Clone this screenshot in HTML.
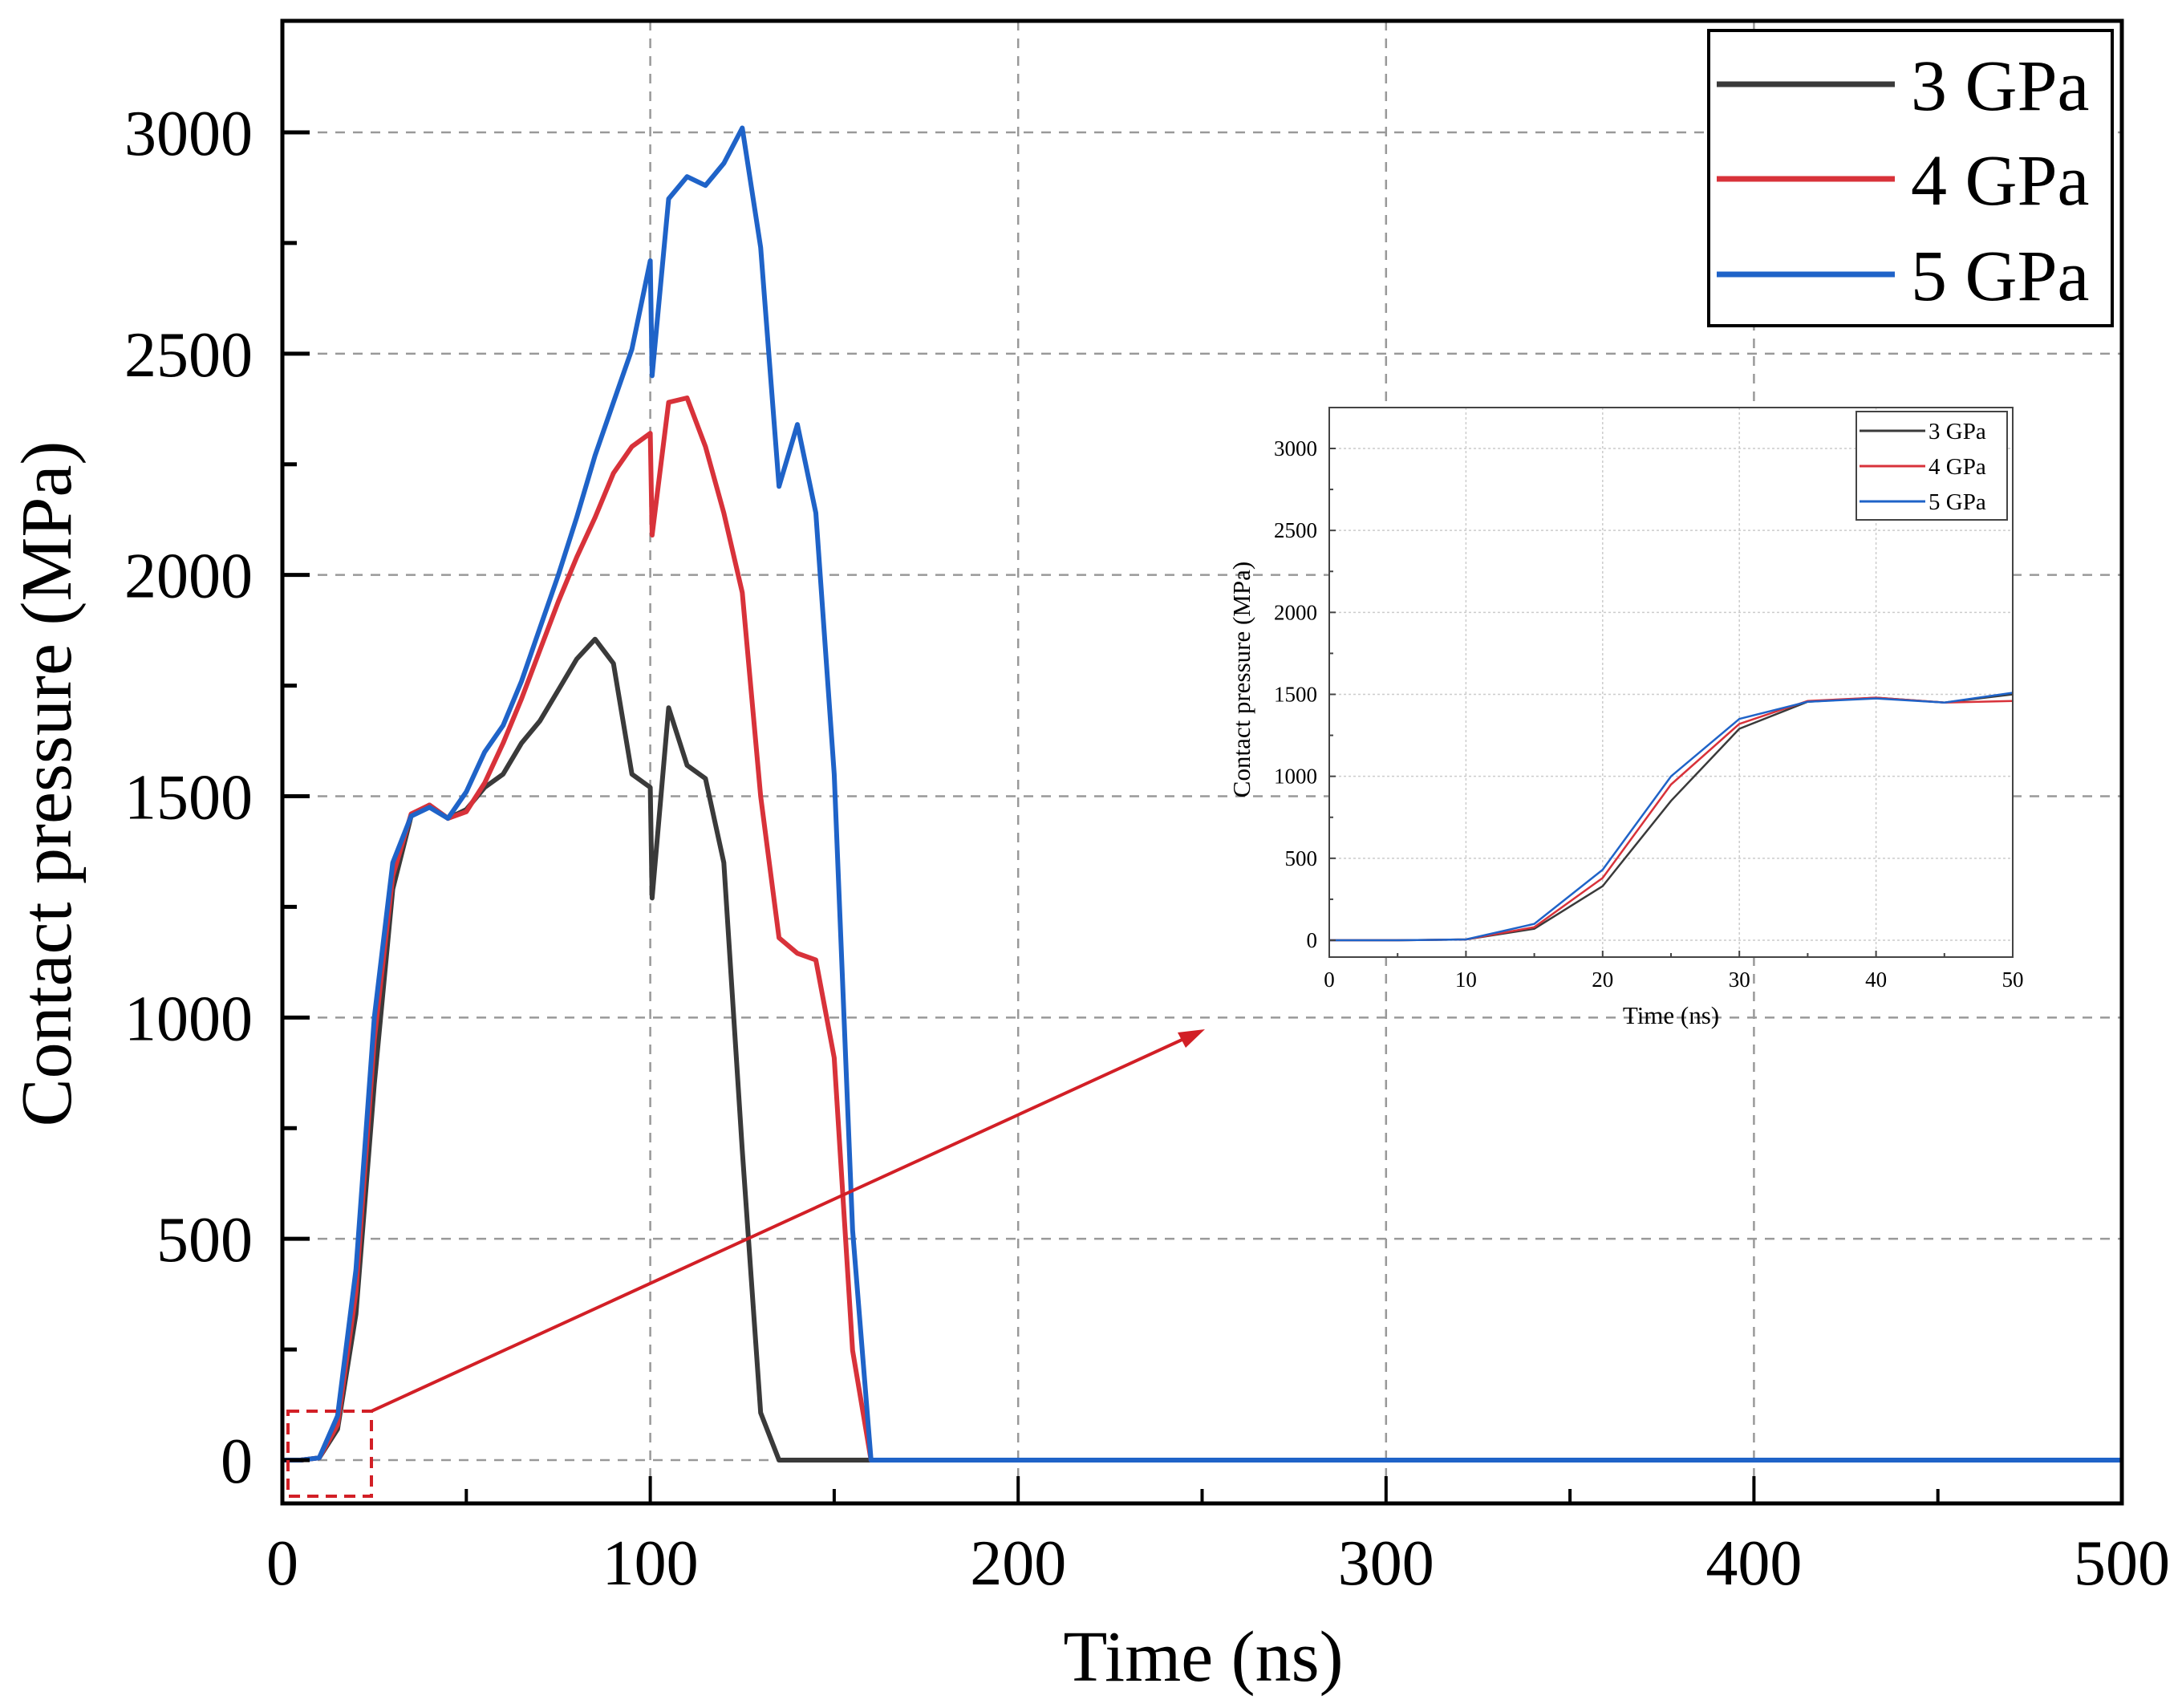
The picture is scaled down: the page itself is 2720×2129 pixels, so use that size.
<!DOCTYPE html>
<html><head><meta charset="utf-8"><style>
html,body{margin:0;padding:0;background:#fff}
svg{display:block;font-family:"Liberation Serif",serif}
</style></head><body>
<svg id="chart" width="2720" height="2129" viewBox="0 0 2720 2129" xmlns="http://www.w3.org/2000/svg">
<g id="grid"></g>
<g id="series"></g>
<g id="axes"></g>
<g id="inset"></g>
<g id="legend"></g>
</svg>
<script>
const times = [0,5,10,15,20,25,30,35,40,45,50,55,60,65,70,75,80,85,90,95,100,100.5,105,110,115,120,125,130,135,140,145,150,155,160,500];
const p3 = [0,0,5,70,330,850,1290,1455,1480,1450,1470,1520,1550,1620,1670,1740,1810,1855,1800,1550,1520,1270,1700,1570,1540,1350,700,107,0,0,0,0,0,0,0];
const p4 = [0,0,5,80,380,950,1320,1460,1480,1450,1465,1530,1620,1720,1830,1940,2040,2130,2230,2290,2320,2090,2390,2400,2290,2140,1960,1500,1180,1145,1130,909,248,0,0];
const p5 = [0,0,5,100,430,1000,1350,1455,1475,1450,1510,1600,1660,1760,1880,2000,2130,2270,2390,2510,2710,2450,2850,2900,2880,2930,3010,2740,2200,2340,2140,1550,520,0,0];
const seriesNames = ["3 GPa","4 GPa","5 GPa"];
const seriesColors = ["#3a3a3a","#d8323a","#1f63c8"];
const xTicks = [0,100,200,300,400,500];
const yTicks = [0,500,1000,1500,2000,2500,3000];
const insetTimes = [0,5,10,15,20,25,30,35,40,45,50];
const i3 = [0,0,5,70,330,850,1290,1455,1480,1450,1500];
const i4 = [0,0,5,80,380,950,1320,1460,1480,1450,1460];
const i5 = [0,0,5,100,430,1000,1350,1455,1475,1450,1510];
const insetXTicks = [0,10,20,30,40,50];

const NS="http://www.w3.org/2000/svg";
function mk(tag,attrs,parent){const e=document.createElementNS(NS,tag);for(const k in attrs)e.setAttribute(k,attrs[k]);parent.appendChild(e);return e;}
const L=352,R=2645,T=26,B=1874;
const X=t=>L+(t/500)*(R-L);
const Y=v=>1820-(v/3000)*(1820-165);
const grid=document.getElementById('grid'),ser=document.getElementById('series'),ax=document.getElementById('axes');
xTicks.slice(1,-1).forEach(t=>{const l=mk('line',{x1:X(t),x2:X(t),y1:T,y2:B,stroke:'#999','stroke-width':2.5,'stroke-dasharray':'12 10'},grid);

});
yTicks.forEach(v=>{const l=mk('line',{x1:L,x2:R,y1:Y(v),y2:Y(v),stroke:'#999','stroke-width':2.5,'stroke-dasharray':'12 10'},grid);

});
[p3,p4,p5].forEach((arr,i)=>{const d=arr.map((v,j)=>(j?'L':'M')+X(times[j]).toFixed(1)+','+Y(v).toFixed(1)).join('');
const p=mk('path',{d:d,fill:'none',stroke:seriesColors[i],'stroke-width':6,'stroke-linejoin':'round'},ser);

});
const fr=mk('rect',{x:L,y:T,width:R-L,height:B-T,fill:'none',stroke:'#000','stroke-width':5},ax);


for(let t=0;t<=500;t+=50){const major=t%100===0;mk('line',{x1:X(t),x2:X(t),y1:B,y2:B-(major?34:18),stroke:'#000','stroke-width':4},ax);}
for(let v=0;v<=3000;v+=250){const major=v%500===0;mk('line',{x1:L,x2:L+(major?34:18),y1:Y(v),y2:Y(v),stroke:'#000','stroke-width':5},ax);}
xTicks.forEach(t=>{const tx=mk('text',{x:X(t),y:1975,'font-size':80,'text-anchor':'middle'},ax);tx.textContent=t;

});
yTicks.forEach(v=>{const tx=mk('text',{x:315,y:Y(v)+28,'font-size':80,'text-anchor':'end'},ax);tx.textContent=v;

});
const xt=mk('text',{x:1500,y:2095,'font-size':90,'text-anchor':'middle'},ax);xt.textContent='Time (ns)';


const yt=mk('text',{x:0,y:0,'font-size':90,'text-anchor':'middle',transform:'translate(88,977) rotate(-90)'},ax);yt.textContent='Contact pressure (MPa)';


const zb=mk('rect',{x:359,y:1759,width:104,height:106,fill:'none',stroke:'#d21f26','stroke-width':4,'stroke-dasharray':'14 9'},ax);


const ar=mk('line',{x1:463,y1:1759,x2:1480,y2:1293,stroke:'#d21f26','stroke-width':4},ax);


const ah=mk('polygon',{points:'1502,1283 1468,1287 1478,1306',fill:'#d21f26'},ax);


const lg=document.getElementById('legend');
mk('rect',{x:2130,y:38,width:503,height:368,fill:'#fff',stroke:'#000','stroke-width':4},lg);
seriesNames.forEach((n,i)=>{const y=[105,223,342][i];
const ln=mk('line',{x1:2140,x2:2362,y1:y,y2:y,stroke:seriesColors[i],'stroke-width':7},lg);


const tx=mk('text',{x:2382,y:y+32,'font-size':90},lg);tx.textContent=n;

});
const ins=document.getElementById('inset');
const iL=1657,iR=2509,iT=508,iB=1193;
const IX=t=>iL+(t/50)*(iR-iL);
const IY=v=>1172-(v/3000)*(1172-559);
mk('rect',{x:iL,y:iT,width:iR-iL,height:iB-iT,fill:'#fff'},ins);
insetXTicks.slice(1,-1).forEach(t=>mk('line',{x1:IX(t),x2:IX(t),y1:iT,y2:iB,stroke:'#ccc','stroke-width':1.5,'stroke-dasharray':'3 3'},ins));
yTicks.forEach(v=>mk('line',{x1:iL,x2:iR,y1:IY(v),y2:IY(v),stroke:'#ccc','stroke-width':1.5,'stroke-dasharray':'3 3'},ins));
[i3,i4,i5].forEach((arr,i)=>{const d=arr.map((v,j)=>(j?'L':'M')+IX(insetTimes[j]).toFixed(1)+','+IY(v).toFixed(1)).join('');
const p=mk('path',{d:d,fill:'none',stroke:seriesColors[i],'stroke-width':2.5},ins);

});
mk('rect',{x:iL,y:iT,width:iR-iL,height:iB-iT,fill:'none',stroke:'#444','stroke-width':2},ins);
for(let t=0;t<=50;t+=5)mk('line',{x1:IX(t),x2:IX(t),y1:iB,y2:iB-(t%10===0?8:5),stroke:'#444','stroke-width':2},ins);
for(let v=0;v<=3000;v+=250)mk('line',{x1:iL,x2:iL+(v%500===0?8:5),y1:IY(v),y2:IY(v),stroke:'#444','stroke-width':2},ins);
insetXTicks.forEach(t=>{const tx=mk('text',{x:IX(t),y:1230,'font-size':27,'text-anchor':'middle'},ins);tx.textContent=t;

});
yTicks.forEach(v=>{const tx=mk('text',{x:1642,y:IY(v)+9,'font-size':27,'text-anchor':'end'},ins);tx.textContent=v;

});
const ixt=mk('text',{x:2083,y:1276,'font-size':31,'text-anchor':'middle'},ins);ixt.textContent='Time (ns)';


const iyt=mk('text',{x:0,y:0,'font-size':31,'text-anchor':'middle',transform:'translate(1558,847) rotate(-90)'},ins);iyt.textContent='Contact pressure (MPa)';


mk('rect',{x:2314,y:513,width:188,height:135,fill:'#fff',stroke:'#444','stroke-width':2},ins);
seriesNames.forEach((n,i)=>{const y=[537,581,625][i];
mk('line',{x1:2318,x2:2400,y1:y,y2:y,stroke:seriesColors[i],'stroke-width':3},ins);
const tx=mk('text',{x:2404,y:y+10,'font-size':29},ins);tx.textContent=n;

});
</script>
</body></html>
